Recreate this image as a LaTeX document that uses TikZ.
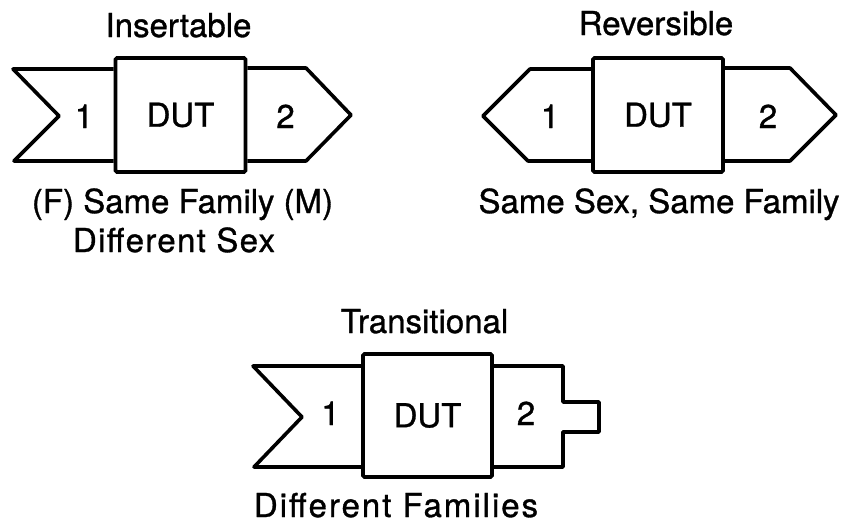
\documentclass[tikz,border=0pt]{standalone}
\usepackage{fontspec}
\setmainfont[FakeBold=1]{TeX Gyre Heros}
\usetikzlibrary{positioning}
\tikzset{
	dutbox/.style={draw, line width=3.6pt, rounded corners=1.5pt, inner sep=0pt,
			minimum width=130pt, minimum height=114pt,
			font=\fontsize{33}{40}\selectfont},
	plug/.style={draw, line width=3.6pt, line join=round},
	lbl/.style={font=\fontsize{33}{40}\selectfont, inner sep=0pt, anchor=base},
	widelbl/.style={lbl, font=\fontsize{33}{40}\selectfont\addfontfeature{LetterSpace=#1}}
}

\begin{document}
\begin{tikzpicture}[x=1pt,y=-1pt]
	\useasboundingbox (0,0) rectangle (845,525);
	% insertable
	\node [dutbox] (boxI) at (180.5,115) {DUT};
	\draw [plug]	(boxI.west |- 0,69) -- (13,69) -- (59,116) -- (14,161) -- (boxI.west |- 0,161);
	\draw [plug]	(boxI.east |- 0,68) -- (306,68) -- (351,115) -- (306,161) -- (boxI.east |- 0,161);
	\node [lbl] (titleI) at (178.5,37) {Insertable};
	\node [lbl] (portIa) at (84,128) {1};
	\node [lbl] (portIb) at (285.5,128) {2};
	\node [lbl] (noteIa) at (182.5,213) {(F) Same Family (M)};
	\node [widelbl=4] (noteIb) at (174,252) {Different Sex};
	% reversible
	\node [dutbox] (boxR) at (658,115) {DUT};
	\draw [plug]	(boxR.west |- 0,69) -- (530,69) -- (483,116) -- (528,161) -- (boxR.west |- 0,161);
	\draw [plug]	(boxR.east |- 0,68) -- (790,68) -- (836,115) -- (790,161) -- (boxR.east |- 0,161);
	\node [lbl] (titleR) at (656,35) {Reversible};
	\node [lbl] (portRa) at (550,128) {1};
	\node [lbl] (portRb) at (768,128) {2};
	\node [lbl] (noteR) at (659,213) {Same Sex, Same Family};
	% transitional
	\node [dutbox, minimum width=129pt, minimum height=123pt] (boxT) at (427.5,415.5) {DUT};
	\draw [plug]	(boxT.west |- 0,366) -- (253,366) -- (302,417) -- (254,467) -- (boxT.west |- 0,467);
	\draw [plug]	(boxT.east |- 0,366) -- (563,366) -- (563,402) -- (599,402)
					-- (599,432) -- (563,432) -- (563,467) -- (boxT.east |- 0,467);
	\node [lbl] (titleT) at (424.5,333) {Transitional};
	\node [lbl] (portTa) at (330.5,425) {1};
	\node [lbl] (portTb) at (526,425) {2};
	\node [widelbl=6] (noteT) at (396,517) {Different Families};
\end{tikzpicture}
\end{document}
